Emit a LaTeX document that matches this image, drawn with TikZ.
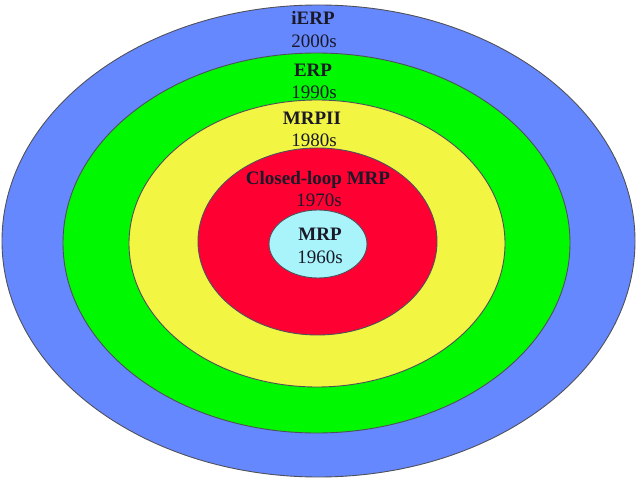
\documentclass[tikz,border=0pt]{standalone}
\usepackage{fontspec}
\setmainfont{Liberation Serif}
\definecolor{cblue}{RGB}{102,136,255}
\definecolor{cgreen}{RGB}{0,248,0}
\definecolor{cyellow}{RGB}{242,245,66}
\definecolor{cred}{RGB}{255,0,51}
\definecolor{ccyan}{RGB}{168,244,250}
\definecolor{cline}{RGB}{80,80,90}
\definecolor{ctext}{RGB}{25,25,40}
\begin{document}
\begin{tikzpicture}[x=1pt,y=-1pt,
  ring/.style={draw=cline,line width=0.9pt},
  lbl/.style={text=ctext,font=\fontsize{19}{23}\selectfont,inner sep=0pt,anchor=base,align=center}]
\useasboundingbox (0,0) rectangle (640,478);
\fill[white] (0,0) rectangle (640,478);
\path[ring,fill=cblue] (318.5,241) ellipse [x radius=316.5, y radius=236];
\path[ring,fill=cgreen] (316.5,243) ellipse [x radius=253.5, y radius=190];
\path[ring,fill=cyellow] (317,243.5) ellipse [x radius=188, y radius=143.5];
\path[ring,fill=cred] (317.5,241.5) ellipse [x radius=119.5, y radius=93.5];
\path[ring,fill=ccyan] (318,244) ellipse [x radius=49, y radius=34];
\node[lbl] (t1) at (313,25) {\textbf{iERP}};
\node[lbl] (y1) at (314,48) {2000s};
\node[lbl] (t2) at (313,77) {\textbf{ERP}};
\node[lbl] (y2) at (314,99) {1990s};
\node[lbl] (t3) at (312,125) {\textbf{MRPII}};
\node[lbl] (y3) at (314,147) {1980s};
\node[lbl] (t4) at (318,185) {\textbf{Closed-loop MRP}};
\node[lbl] (y4) at (319,207) {1970s};
\node[lbl] (t5) at (320,241) {\textbf{MRP}};
\node[lbl] (y5) at (320,264) {1960s};
\end{tikzpicture}
\end{document}
